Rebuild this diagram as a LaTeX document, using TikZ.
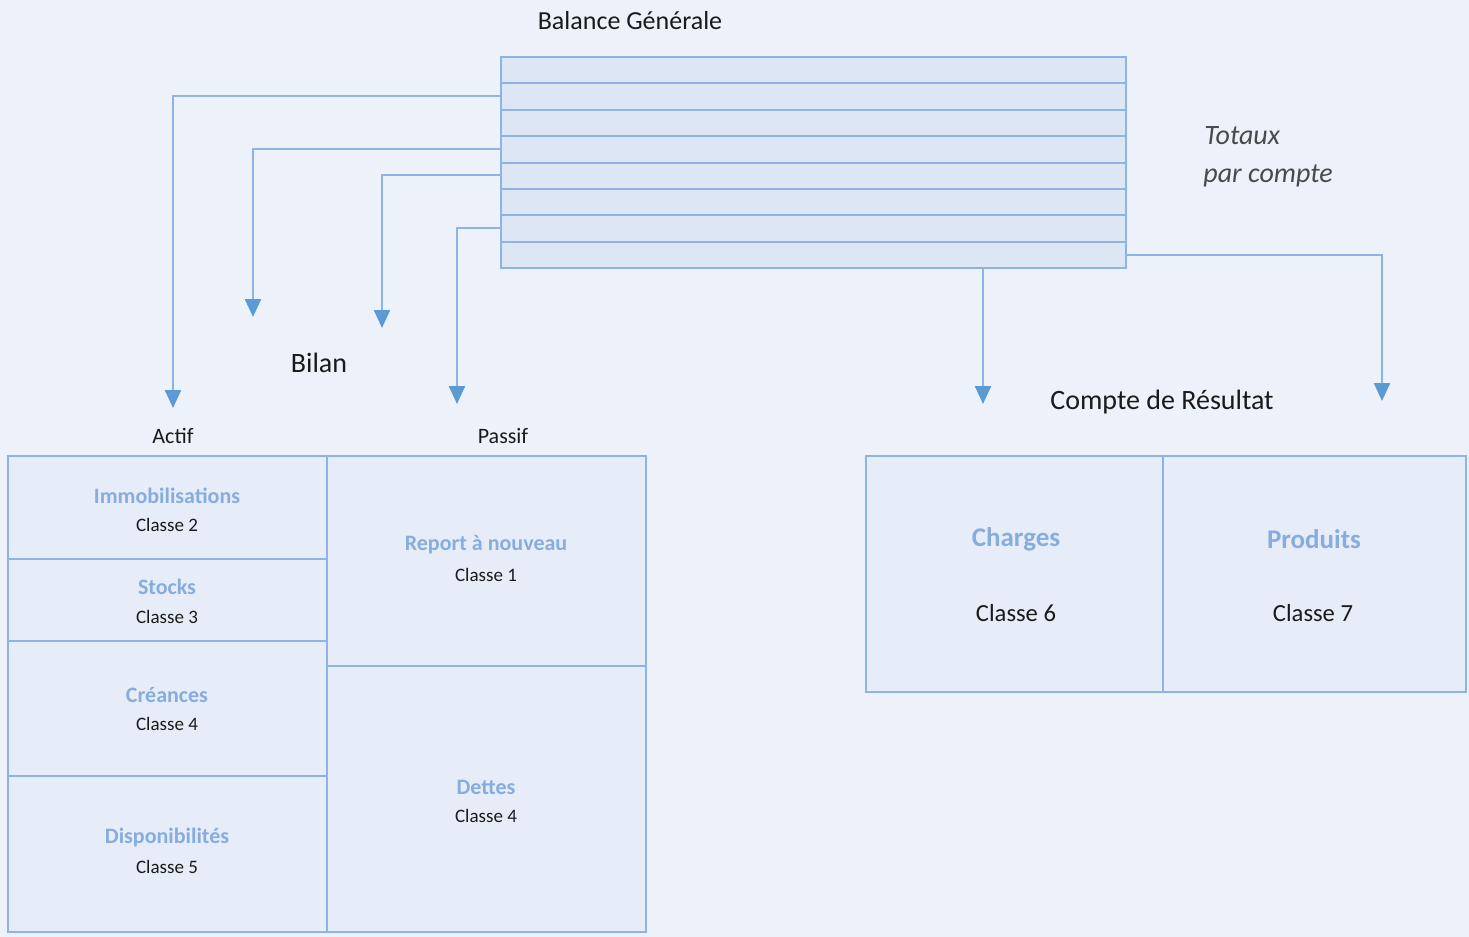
\documentclass[tikz,border=0pt]{standalone}
\usepackage{fontspec}
\setmainfont{Carlito}
\usetikzlibrary{arrows.meta}
\definecolor{bgc}{HTML}{EDF2FA}
\definecolor{tabfill}{HTML}{DCE6F5}
\definecolor{cellfill}{HTML}{E6EDF8}
\definecolor{linec}{HTML}{8EB4E3}
\definecolor{arrc}{HTML}{5B9BD5}
\definecolor{ttlc}{HTML}{86ADDD}
\definecolor{txtc}{HTML}{1A1A1A}
\definecolor{grayc}{HTML}{4A4A4A}
\tikzset{
  baltab/.style={draw=linec, fill=tabfill, line width=1pt, rectangle, inner sep=0pt,
    minimum width=312.5pt, minimum height=105.5pt},
  tabline/.style={draw=linec, line width=1pt},
  conn/.style={draw=linec, line width=1.2pt, -{Triangle[width=8pt,length=9pt,color=arrc]}},
  cell/.style={draw=linec, fill=cellfill, line width=1pt, rectangle, inner sep=0pt},
  ttl/.style={text=ttlc, font=\fontsize{11}{13}\selectfont\bfseries, inner sep=0pt},
  bigttl/.style={text=ttlc, font=\fontsize{13.5}{16}\selectfont\bfseries, inner sep=0pt},
  cls/.style={text=txtc, font=\fontsize{9.5}{11}\selectfont, inner sep=0pt},
  bigcls/.style={text=txtc, font=\fontsize{12.3}{14}\selectfont, inner sep=0pt},
  head/.style={text=txtc, font=\fontsize{13.5}{16}\selectfont, inner sep=0pt},
  sub/.style={text=txtc, font=\fontsize{11}{13}\selectfont, inner sep=0pt},
  note/.style={text=grayc, font=\fontsize{14}{16}\selectfont\itshape, inner sep=0pt, anchor=west},
}
\begin{document}
\begin{tikzpicture}[x=0.5pt, y=-0.5pt]
\fill[bgc] (0,0) rectangle (1469,937);
\useasboundingbox (0,0) rectangle (1469,937);

% Balance table
\node[baltab] (bal) at (813.5,162.5) {};
\foreach \i in {1,...,7} {
  \draw[tabline] (bal.west |- 0,{57+\i*26.375}) -- (bal.east |- 0,{57+\i*26.375});
}
\node[head, font=\fontsize{13}{15}\selectfont] (balt) at (630,21) {Balance Générale};
\node[note] (tot1) at (1204,136) {Totaux};
\node[note] (tot2) at (1203,176) {par compte};

% connectors
\coordinate (s1) at (bal.west |- 0,96);
\coordinate (s2) at (bal.west |- 0,149);
\coordinate (s3) at (bal.west |- 0,175);
\coordinate (s4) at (bal.west |- 0,228);
\coordinate (s5) at (bal.south -| 983,0);
\coordinate (s6) at (bal.east |- 0,255);
\coordinate (t1) at (173,408);
\coordinate (t2) at (253,317);
\coordinate (t3) at (382,328);
\coordinate (t4) at (457,404);
\coordinate (t5) at (983,404);
\coordinate (t6) at (1382,401);
\draw[conn] (s1) -| (t1);
\draw[conn] (s2) -| (t2);
\draw[conn] (s3) -| (t3);
\draw[conn] (s4) -| (t4);
\draw[conn] (s5) -- (t5);
\draw[conn] (s6) -| (t6);

% Bilan
\node[head, font=\fontsize{14}{16}\selectfont] (bilan) at (319,363) {Bilan};
\node[sub] (actif) at (173,436) {Actif};
\node[sub] (passif) at (503,436) {Passif};

\node[cell, minimum width=159.5pt, minimum height=51.5pt] (immo) at (167.5,507.5) {};
\node[cell, minimum width=159.5pt, minimum height=41pt] (stk) at (167.5,600) {};
\node[cell, minimum width=159.5pt, minimum height=67.5pt] (cre) at (167.5,708.5) {};
\node[cell, minimum width=159.5pt, minimum height=78pt] (dispo) at (167.5,854) {};
\node[cell, minimum width=159.5pt, minimum height=105pt] (rep) at (486.5,561) {};
\node[cell, minimum width=159.5pt, minimum height=133pt] (det) at (486.5,799) {};

\node[ttl] (immot) at (167,496) {Immobilisations};
\node[cls] (immoc) at (167,525) {Classe 2};
\node[ttl] (stkt) at (167,587) {Stocks};
\node[cls] (stkc) at (167,617) {Classe 3};
\node[ttl] (cret) at (167,695) {Créances};
\node[cls] (crec) at (167,724) {Classe 4};
\node[ttl] (dispot) at (167,838) {Disponibilités};
\node[cls] (dispoc) at (167,867) {Classe 5};
\node[ttl] (rept) at (486,545) {Report à nouveau};
\node[cls] (repc) at (486,575) {Classe 1};
\node[ttl] (dett) at (486,787) {Dettes};
\node[cls] (detc) at (486,816) {Classe 4};

% Compte de resultat
\node[head, font=\fontsize{14}{16}\selectfont] (cdr) at (1162,402) {Compte de Résultat};
\node[cell, minimum width=148.5pt, minimum height=118pt] (chg) at (1014.5,574) {};
\node[cell, minimum width=151.5pt, minimum height=118pt] (prd) at (1314.5,574) {};
\node[bigttl] (chgt) at (1016,539) {Charges};
\node[bigcls] (chgc) at (1016,613) {Classe 6};
\node[bigttl] (prdt) at (1314,539) {Produits};
\node[bigcls] (prdc) at (1313,613) {Classe 7};
\end{tikzpicture}
\end{document}
